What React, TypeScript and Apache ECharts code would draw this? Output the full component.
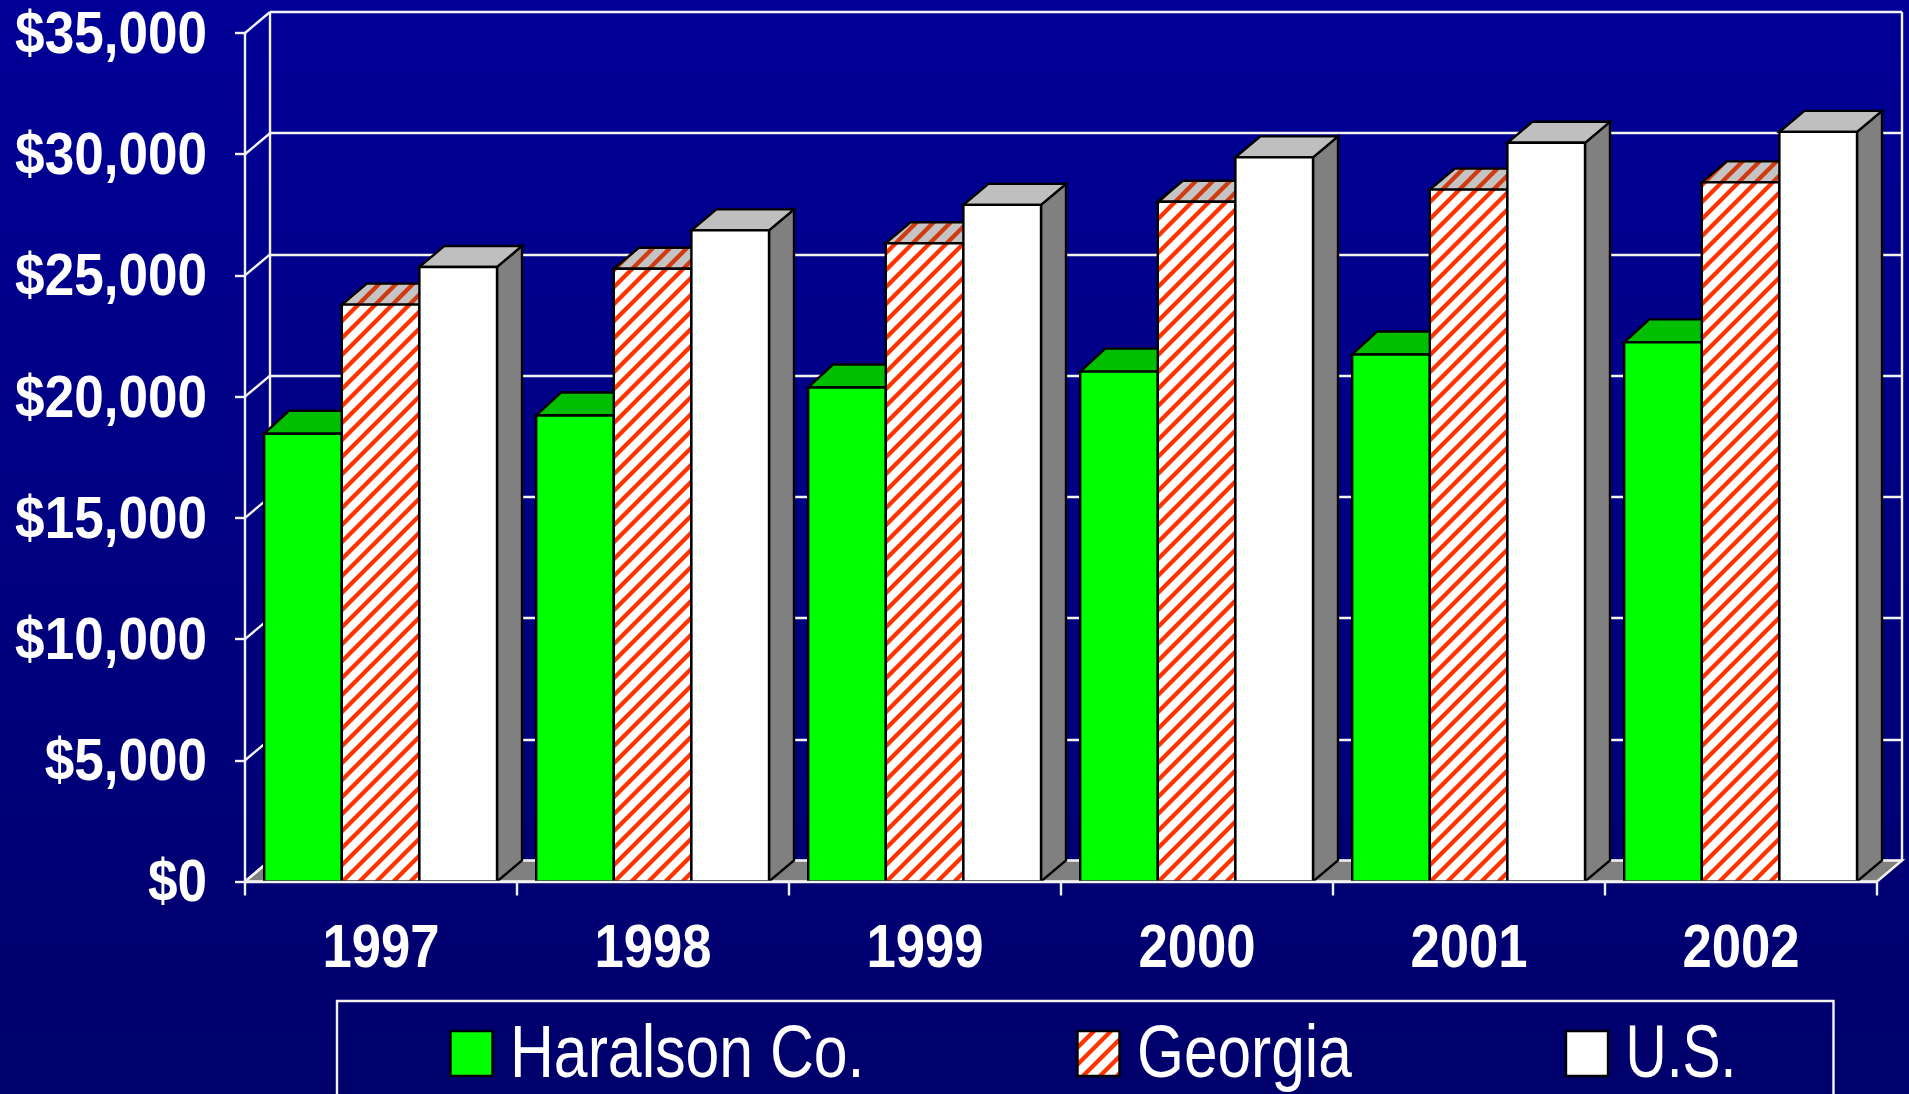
import React, { useEffect, useRef } from "react";
import * as echarts from "echarts";

const categories = ["1997", "1998", "1999", "2000", "2001", "2002"];
const haralson = [18470, 19225, 20380, 21030, 21740, 22240];
const georgia = [23795, 25275, 26330, 28040, 28540, 28840];
const us = [25350, 26857, 27910, 29870, 30470, 30920];
const yTicks = [0, 5000, 10000, 15000, 20000, 25000, 30000, 35000];
const seriesNames = ["Haralson Co.", "Georgia", "U.S."];

const W = 1909;
const H = 1094;
const DX = 25;
const DY = 21;
const LINE = "#F2F2F2";
const LW = 2.4;
const FONT = '"Liberation Sans", Arial, sans-serif';

function hatch(bg: string, stripe: string) {
  const n = 17;
  const c = document.createElement("canvas");
  c.width = n;
  c.height = n;
  const g = c.getContext("2d")!;
  g.fillStyle = bg;
  g.fillRect(0, 0, n, n);
  g.strokeStyle = stripe;
  g.lineWidth = 4.3;
  for (const o of [-n, 0, n]) {
    g.beginPath();
    g.moveTo(o - 2, n + 2);
    g.lineTo(o + n + 2, -2);
    g.stroke();
  }
  return { image: c, repeat: "repeat" as const };
}

export default function App() {
  const ref = useRef<HTMLDivElement>(null);
  useEffect(() => {
    const chart = echarts.init(ref.current!, undefined, { renderer: "svg" });
    const frontHatch = hatch("#FFFFFF", "#FF3300");
    const topHatch = hatch("#C4C4C4", "#D03A10");
    const looks = [
      { front: "#00FF00", top: "#00BF00", side: "#00A000", dy: 23 },
      { front: frontHatch, top: topHatch, side: "#808080", dy: DY },
      { front: "#FFFFFF", top: "#BFBFBF", side: "#808080", dy: DY },
    ];
    const box = (idx: number) => (_p: any, api: any) => {
      const [cx, y] = api.coord([api.value(0), api.value(1)]);
      const y0 = api.coord([api.value(0), 0])[1];
      const band = api.size([1, 0])[0];
      const w = (band * 77.6) / 272;
      const x = cx + (idx - 1) * w - w / 2 - 0.4;
      const dy = looks[idx].dy;
      const st = { stroke: "#000000", lineWidth: 2.4, lineJoin: "miter" };
      return {
        type: "group",
        children: [
          {
            type: "polygon",
            shape: { points: [[x + w, y], [x + w + DX, y - dy], [x + w + DX, y0 - dy], [x + w, y0]] },
            style: { ...st, fill: looks[idx].side },
          },
          {
            type: "polygon",
            shape: { points: [[x, y], [x + DX, y - dy], [x + w + DX, y - dy], [x + w, y]] },
            style: { ...st, fill: looks[idx].top },
          },
          {
            type: "rect",
            shape: { x, y, width: w, height: y0 - y },
            style: { ...st, fill: looks[idx].front },
          },
        ],
      };
    };
    const hidden = { show: false };
    const barSeries = [haralson, georgia, us].map((vals, idx) => ({
      type: "custom",
      name: seriesNames[idx],
      xAxisIndex: 0,
      yAxisIndex: 0,
      z: 3 + idx,
      encode: { x: 0, y: 1 },
      data: vals.map((v, i) => [i, v]),
      renderItem: box(idx),
    }));
    const legendIcons = [450.5, 1077.5, 1566];
    const legendTexts = [510, 1137, 1625.5];
    const legendScales = [0.81, 0.805, 0.76];
    const legendGraphic: any[] = [
      {
        type: "rect",
        shape: { x: 337, y: 1001, width: 1496.5, height: 200 },
        style: { fill: "transparent", stroke: LINE, lineWidth: LW },
        silent: true,
      },
    ];
    seriesNames.forEach((name, i) => {
      legendGraphic.push({
        type: "rect",
        shape: { x: legendIcons[i], y: 1031, width: 42, height: 45 },
        style: { fill: looks[i].front, stroke: "#000000", lineWidth: 2.4 },
        silent: true,
      });
      legendGraphic.push({
        type: "text",
        x: legendTexts[i],
        y: 1051,
        scaleX: legendScales[i],
        silent: true,
        style: {
          text: name,
          fill: "#FFFFFF",
          fontFamily: FONT,
          fontSize: 75,
          textAlign: "left",
          textVerticalAlign: "middle",
        },
      });
    });
    const splitStyle = { show: true, lineStyle: { color: LINE, width: LW } };
    chart.setOption({
      animation: false,
      backgroundColor: {
        type: "linear",
        x: 0,
        y: 0,
        x2: 0,
        y2: 1,
        colorStops: [
          { offset: 0, color: "#000097" },
          { offset: 1, color: "#00006B" },
        ],
      },
      grid: [
        { left: 245, right: W - 1877, top: 33, bottom: H - 881.5, outerBoundsMode: "none" },
        { left: 270, right: W - 1902, top: 12, bottom: H - 860.5, outerBoundsMode: "none" },
      ],
      xAxis: [
        {
          type: "category",
          gridIndex: 0,
          data: categories,
          z: 10,
          axisLine: { show: true, lineStyle: { color: LINE, width: LW } },
          axisTick: { show: true, length: 14, alignWithLabel: false, lineStyle: { color: LINE, width: LW } },
          axisLabel: hidden,
        },
        {
          type: "value",
          gridIndex: 1,
          min: 0,
          max: 1,
          interval: 1,
          axisLine: hidden,
          axisTick: hidden,
          axisLabel: hidden,
          splitLine: splitStyle,
        },
      ],
      yAxis: [
        {
          type: "value",
          gridIndex: 0,
          min: 0,
          max: 35000,
          interval: 5000,
          z: 2,
          axisLine: { show: true, lineStyle: { color: LINE, width: LW } },
          axisTick: { show: true, length: 10, lineStyle: { color: LINE, width: LW } },
          splitLine: hidden,
          axisLabel: hidden,
        },
        {
          type: "value",
          gridIndex: 1,
          min: 0,
          max: 35000,
          interval: 5000,
          axisLine: hidden,
          axisTick: hidden,
          axisLabel: hidden,
          splitLine: splitStyle,
        },
      ],
      graphic: legendGraphic,
      series: [
        {
          type: "custom",
          xAxisIndex: 0,
          yAxisIndex: 0,
          z: 1,
          silent: true,
          encode: { x: 0, y: 1 },
          data: [[0, 0]],
          renderItem: (p: any, api: any) => {
            const r = p.coordSys;
            const y0 = api.coord([0, 0])[1];
            return {
              type: "polygon",
              shape: { points: [[r.x, y0], [r.x + DX, y0 - DY], [r.x + r.width + DX, y0 - DY], [r.x + r.width, y0]] },
              style: { fill: "#808080", stroke: LINE, lineWidth: LW },
            };
          },
        },
        {
          type: "custom",
          xAxisIndex: 0,
          yAxisIndex: 0,
          z: 1,
          silent: true,
          encode: { x: 0, y: 1 },
          data: yTicks.map((v) => [0, v]),
          renderItem: (p: any, api: any) => {
            const x = p.coordSys.x;
            const v = api.value(1);
            const y = api.coord([0, v])[1];
            return {
              type: "group",
              children: [
                {
                  type: "line",
                  shape: { x1: x, y1: y, x2: x + DX, y2: y - DY },
                  style: { stroke: LINE, lineWidth: LW },
                },
                {
                  type: "text",
                  x: x - 38,
                  y: y - 0.5,
                  scaleX: 0.9,
                  style: {
                    text: "$" + v.toLocaleString("en-US"),
                    fill: "#FFFFFF",
                    fontFamily: FONT,
                    fontWeight: "bold",
                    fontSize: 59,
                    textAlign: "right",
                    textVerticalAlign: "middle",
                  },
                },
              ],
            };
          },
        },
        {
          type: "custom",
          xAxisIndex: 0,
          yAxisIndex: 0,
          z: 1,
          silent: true,
          encode: { x: 0, y: 1 },
          data: categories.map((_c, i) => [i, 0]),
          renderItem: (_p: any, api: any) => {
            const i = api.value(0);
            const [x, y] = api.coord([i, 0]);
            return {
              type: "text",
              x,
              y: y + 64,
              scaleX: 0.85,
              style: {
                text: categories[i],
                fill: "#FFFFFF",
                fontFamily: FONT,
                fontWeight: "bold",
                fontSize: 62,
                textAlign: "center",
                textVerticalAlign: "middle",
              },
            };
          },
        },
        ...barSeries,
      ],
    });
    return () => chart.dispose();
  }, []);
  return <div ref={ref} style={{ position: "fixed", left: 0, top: 0, width: W, height: H }} />;
}
